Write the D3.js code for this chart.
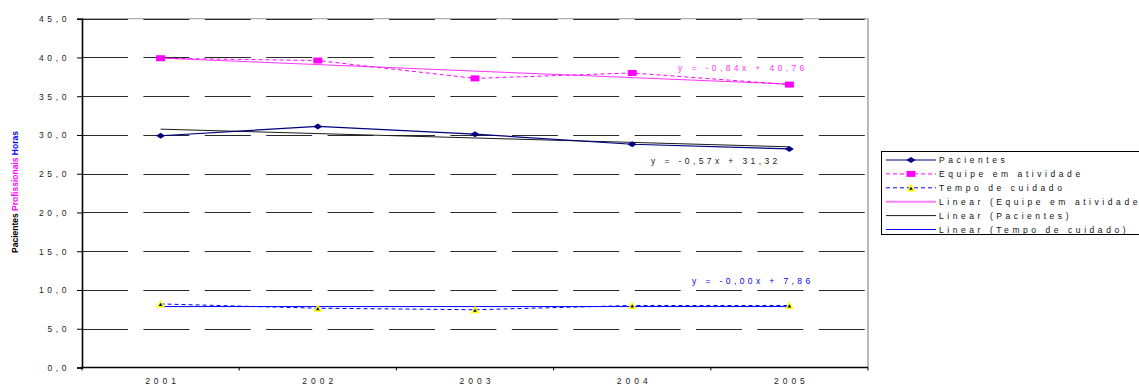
<!DOCTYPE html>
<html>
<head>
<meta charset="utf-8">
<script src="https://cdn.jsdelivr.net/npm/d3@7/dist/d3.min.js"></script>
<style>
  html, body { margin: 0; padding: 0; background: #fff; }
  svg { display: block; font-family: "Liberation Sans", Arial, sans-serif; }
</style>
</head>
<body>
<svg id="chart" width="1139" height="385"></svg>
<script>
// Data
const years = ["2001", "2002", "2003", "2004", "2005"];
const pacientes = [29.9, 31.1, 30.1, 28.8, 28.2];
const equipe = [39.9, 39.6, 37.3, 38.0, 36.5];
const tempo = [8.2, 7.65, 7.45, 8.0, 8.0];
// Linear trend coefficients (y = a*x + b, x = 1..5)
const trendNames = ["Equipe em atividade", "Pacientes", "Tempo de cuidado"];
const trendSlopes = [-0.84, -0.57, -0.00];
const trendIntercepts = [40.76, 31.32, 7.86];
const yTicks = [0, 5, 10, 15, 20, 25, 30, 35, 40, 45];

const svg = d3.select("#chart");
const plotLeft = 82, plotRight = 868, plotTop = 18.7, plotBottom = 367.5;

const x = d3.scaleBand().domain(years).range([plotLeft, plotRight]);
const cx = d => x(d) + x.bandwidth() / 2;
const y = d3.scaleLinear().domain([0, 45]).range([plotBottom, plotTop]);

const fmt = v => v.toFixed(1).replace(".", ",");
const fmt2 = v => v.toFixed(2).replace(".", ",");

// Plot frame (top and right edges)
svg.append("line").attr("x1", plotLeft).attr("x2", plotRight).attr("y1", plotTop).attr("y2", plotTop)
  .attr("stroke", "#9a9a9a").attr("stroke-width", 1);
svg.append("line").attr("x1", plotRight).attr("x2", plotRight).attr("y1", plotTop).attr("y2", plotBottom)
  .attr("stroke", "#8a8a8a").attr("stroke-width", 1.2);

// Dashed gridlines
svg.append("g").selectAll("line").data(yTicks.filter(v => v > 0)).join("line")
  .attr("x1", plotLeft).attr("x2", plotRight - 0.5)
  .attr("y1", d => Math.round(y(d)) + 0.5).attr("y2", d => Math.round(y(d)) + 0.5)
  .attr("stroke", "#2a2a2a").attr("stroke-width", 1)
  .attr("stroke-dasharray", "46,15.4");

// Y axis
const yAxis = svg.append("g").attr("transform", `translate(${plotLeft},0)`)
  .call(d3.axisLeft(y).tickValues(yTicks).tickSize(5).tickFormat(fmt));
yAxis.select(".domain").attr("stroke", "#000").attr("stroke-width", 1.6);
yAxis.selectAll(".tick line").attr("stroke", "#000");
yAxis.selectAll(".tick text")
  .attr("x", -12).attr("dy", "0.35em")
  .attr("font-size", 8.5).attr("fill", "#222")
  .attr("font-family", "'Liberation Sans', Arial, sans-serif")
  .style("letter-spacing", "3.6px");

// X axis
svg.append("line").attr("x1", plotLeft - 1).attr("x2", plotRight).attr("y1", plotBottom).attr("y2", plotBottom)
  .attr("stroke", "#000").attr("stroke-width", 1.6);
const bounds = years.map(d => x(d)).concat([plotRight]);
svg.append("g").selectAll("line").data(bounds).join("line")
  .attr("x1", d => d).attr("x2", d => d)
  .attr("y1", plotBottom).attr("y2", plotBottom + 3)
  .attr("stroke", "#000").attr("stroke-width", 1);
svg.append("g").selectAll("text").data(years).join("text")
  .attr("x", d => cx(d) + 2).attr("y", 384)
  .attr("text-anchor", "middle")
  .attr("font-size", 8.5).attr("fill", "#222")
  .style("letter-spacing", "4px")
  .text(d => d);

// Y axis title
const title = svg.append("text")
  .attr("transform", "translate(18,192) rotate(-90)")
  .attr("text-anchor", "middle")
  .attr("font-size", 8.5).attr("font-weight", "bold");
title.append("tspan").attr("fill", "#000").text("Pacientes ");
title.append("tspan").attr("fill", "#ff00ff").text("Profissionais ");
title.append("tspan").attr("fill", "#0000ff").text("Horas");

// Trend lines
const trendColors = ["#ff33ff", "#1a1a1a", "#0000ff"];
trendSlopes.forEach((a, i) => {
  const b = trendIntercepts[i];
  svg.append("line")
    .attr("x1", cx(years[0])).attr("y1", y(a * 1 + b))
    .attr("x2", cx(years[years.length - 1])).attr("y2", y(a * years.length + b))
    .attr("stroke", trendColors[i]).attr("stroke-width", 1);
});

// Series lines
const line = d3.line().x((d, i) => cx(years[i])).y(d => y(d));
svg.append("path").datum(equipe).attr("d", line)
  .attr("fill", "none").attr("stroke", "#ff00ff").attr("stroke-width", 1)
  .attr("stroke-dasharray", "4,3");
svg.append("path").datum(tempo).attr("d", line)
  .attr("fill", "none").attr("stroke", "#0000ff").attr("stroke-width", 1)
  .attr("stroke-dasharray", "4,3");
svg.append("path").datum(pacientes).attr("d", line)
  .attr("fill", "none").attr("stroke", "#000080").attr("stroke-width", 1.2);

// Markers
const diamond = (px, py) => `M${px - 4.5},${py}L${px},${py - 3}L${px + 4.5},${py}L${px},${py + 3}Z`;
const tri = (px, py, s) => `M${px - s},${py + s * 0.8}L${px},${py - s * 0.9}L${px + s},${py + s * 0.8}Z`;

svg.append("g").selectAll("path").data(pacientes).join("path")
  .attr("d", (d, i) => diamond(cx(years[i]), y(d)))
  .attr("fill", "#000080");
svg.append("g").selectAll("rect").data(equipe).join("rect")
  .attr("x", (d, i) => cx(years[i]) - 4.5).attr("y", d => y(d) - 3)
  .attr("width", 9).attr("height", 6)
  .attr("fill", "#ff00ff");
const tg = svg.append("g");
tempo.forEach((d, i) => {
  tg.append("path").attr("d", tri(cx(years[i]), y(d), 4.5)).attr("fill", "#ffff00");
  tg.append("path").attr("d", tri(cx(years[i]), y(d) + 0.5, 1.8)).attr("fill", "#000080");
});

// Trend equations
const eqLabel = (i, px, py, color) => svg.append("text")
  .attr("x", px).attr("y", py)
  .attr("font-size", 8.5).attr("fill", color)
  .style("letter-spacing", "3.4px")
  .text(`y = ${fmt2(trendSlopes[i]).replace(/^(\d)/, "-$1")}x + ${fmt2(trendIntercepts[i])}`);
eqLabel(0, 678, 71, "#ff33ff");
eqLabel(1, 651, 164, "#1a1a1a");
eqLabel(2, 692, 284, "#0000ff");

// Legend
const lx = 881.5, ly = 151.5, rowH = 13.9;
svg.append("rect").attr("x", lx).attr("y", ly).attr("width", 270).attr("height", 83)
  .attr("fill", "#fff").attr("stroke", "#000").attr("stroke-width", 1);
const legendItems = [
  { name: "Pacientes", color: "#000080", dash: null, marker: "diamond" },
  { name: "Equipe em atividade", color: "#ff00ff", dash: "4,3", marker: "square" },
  { name: "Tempo de cuidado", color: "#0000ff", dash: "4,3", marker: "triangle" },
  { name: "Linear (" + trendNames[0] + ")", color: "#ff80ff", dash: null, marker: null, w: 2 },
  { name: "Linear (" + trendNames[1] + ")", color: "#1a1a1a", dash: null, marker: null },
  { name: "Linear (" + trendNames[2] + ")", color: "#0000ff", dash: null, marker: null }
];
legendItems.forEach((it, i) => {
  const ry = 160 + i * rowH;
  svg.append("line").attr("x1", 886).attr("x2", 936).attr("y1", ry).attr("y2", ry)
    .attr("stroke", it.color).attr("stroke-width", it.w || 1)
    .attr("stroke-dasharray", it.dash);
  if (it.marker === "diamond") svg.append("path").attr("d", diamond(911, ry)).attr("fill", "#000080");
  if (it.marker === "square") svg.append("rect").attr("x", 906.5).attr("y", ry - 3).attr("width", 9).attr("height", 6).attr("fill", "#ff00ff");
  if (it.marker === "triangle") {
    svg.append("path").attr("d", tri(911, ry, 4.5)).attr("fill", "#ffff00");
    svg.append("path").attr("d", tri(911, ry + 0.5, 1.8)).attr("fill", "#000080");
  }
  svg.append("text").attr("x", 939).attr("y", ry + 3)
    .attr("font-size", 8.5).attr("fill", "#111")
    .style("letter-spacing", "3.56px")
    .text(it.name);
});
</script>
</body>
</html>
